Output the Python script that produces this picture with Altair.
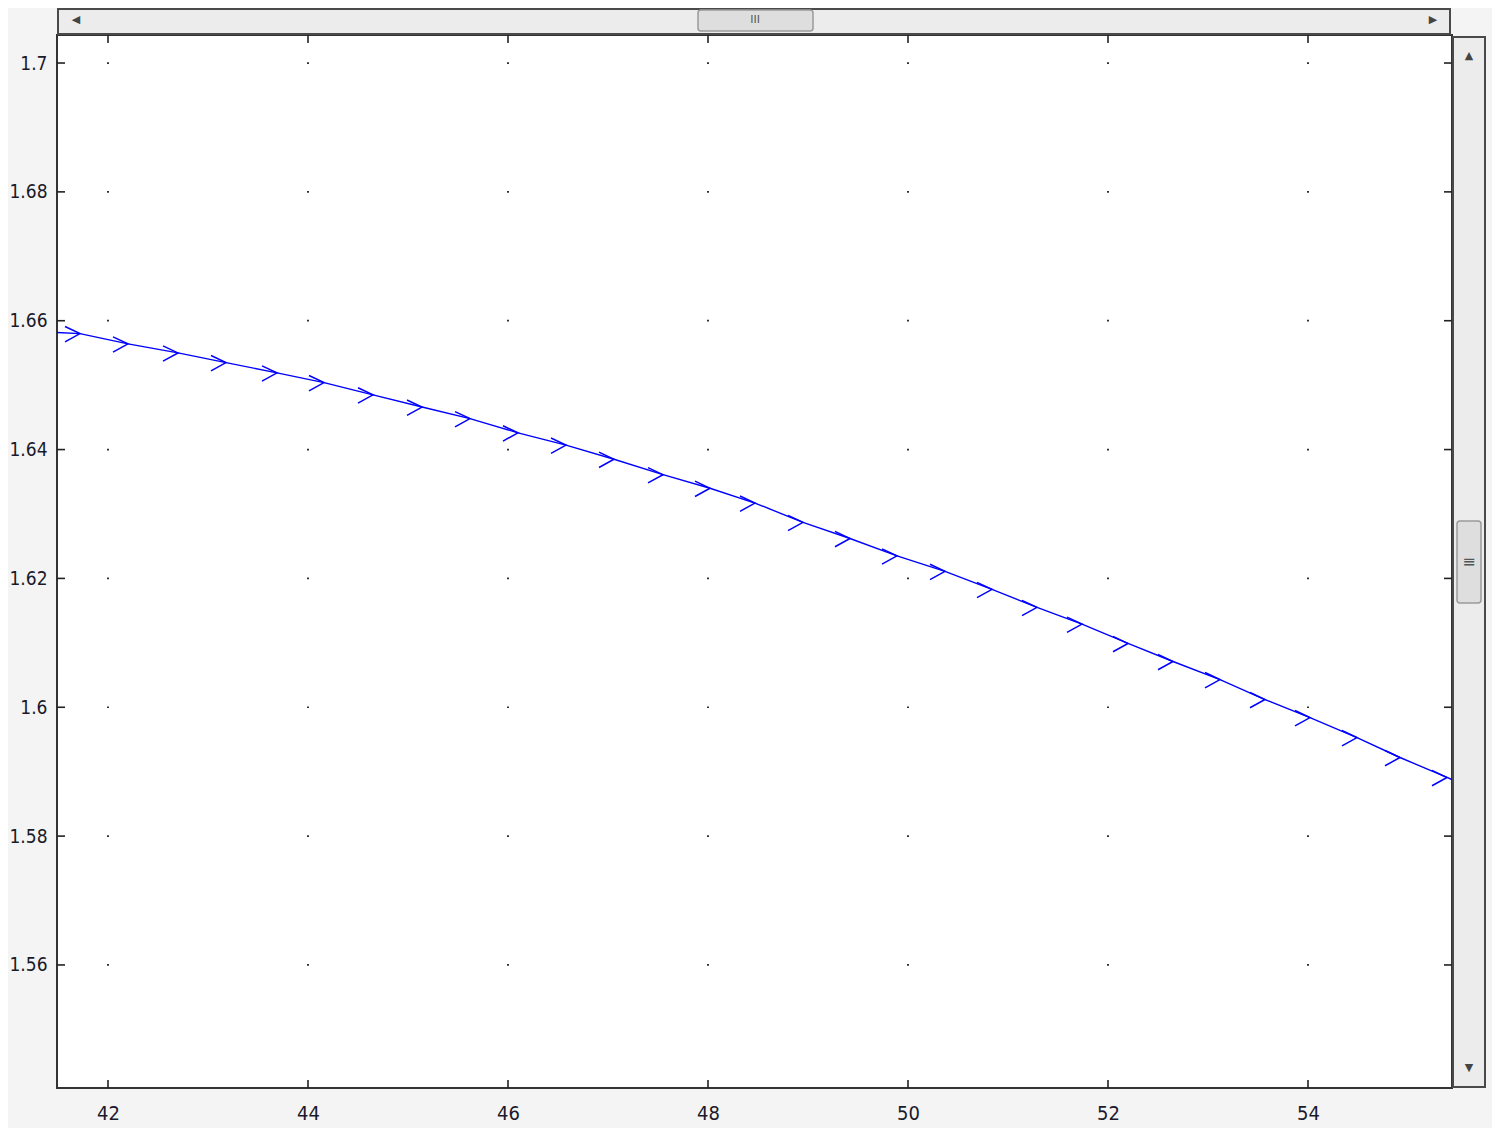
import altair as alt
import pandas as pd
import itertools

# ---- data ----
line_x = [41.45, 41.72, 42.20, 42.70, 43.18, 43.69, 44.16, 44.65, 45.14, 45.62, 46.10,
          46.58, 47.06, 47.55, 48.02, 48.47, 48.95, 49.42, 49.89, 50.37, 50.84,
          51.29, 51.74, 52.20, 52.65, 53.12, 53.57, 54.02, 54.49, 54.92, 55.39, 55.48]
line_y = [1.6582, 1.6580, 1.6564, 1.6550, 1.6535, 1.6519, 1.6504, 1.6485, 1.6466, 1.6448, 1.6426,
          1.6407, 1.6385, 1.6361, 1.6340, 1.6317, 1.6287, 1.6262, 1.6235, 1.6211, 1.6183,
          1.6155, 1.6129, 1.6099, 1.6071, 1.6043, 1.6012, 1.5984, 1.5953, 1.5922, 1.5891, 1.5885]
marker_idx = list(range(1, 31))

x_ticks = [42, 44, 46, 48, 50, 52, 54]
y_ticks = [1.56, 1.58, 1.60, 1.62, 1.64, 1.66, 1.68, 1.70]

X_DOMAIN = [41.49, 55.44]
Y_DOMAIN = [1.5409, 1.70435]
W, H = 1395, 1053

line_df = pd.DataFrame({"x": line_x, "y": line_y})
marker_df = pd.DataFrame({"x": [line_x[i] for i in marker_idx], "y": [line_y[i] for i in marker_idx]})
grid_df = pd.DataFrame(list(itertools.product(x_ticks, y_ticks)), columns=["x", "y"])
xt_df = pd.DataFrame({"x": x_ticks})
yt_df = pd.DataFrame({"y": y_ticks})
one = pd.DataFrame({"k": [0]})

xs = alt.Scale(domain=X_DOMAIN, nice=False, zero=False)
ys = alt.Scale(domain=Y_DOMAIN, nice=False, zero=False)

FONT = "DejaVu Sans Condensed"
xa = alt.Axis(values=x_ticks, format="d", title=None, ticks=False, domain=False, grid=False,
              labelPadding=15, labelFont=FONT, labelFontSize=20, labelColor="#1a1a2a")
ya = alt.Axis(values=y_ticks, format=".3~g", title=None, ticks=False, domain=False, grid=False,
              labelPadding=10, labelFont=FONT, labelFontSize=19, labelColor="#1a1a2a")

X = alt.X("x:Q", scale=xs, axis=xa)
Y = alt.Y("y:Q", scale=ys, axis=ya)

dots = alt.Chart(grid_df).mark_square(size=3, color="#111", opacity=1).encode(x=X, y=Y)

line = alt.Chart(line_df).mark_line(color="#0000ff", strokeWidth=1.4, clip=True).encode(
    x=X, y=Y, order=alt.Order("x:Q"),
)

markers = alt.Chart(marker_df).mark_point(
    shape="M -1 -0.47 L 0 0 L -1 0.55", size=900, filled=False,
    color="#0000ff", strokeWidth=1.5, opacity=1, clip=True,
).encode(x=X, y=Y)

tick_style = dict(color="#222", strokeWidth=1.6)
xt_top = alt.Chart(xt_df).mark_rule(**tick_style).encode(x=X, y=alt.value(0), y2=alt.value(8))
xt_bot = alt.Chart(xt_df).mark_rule(**tick_style).encode(x=X, y=alt.value(H - 8), y2=alt.value(H))
yt_left = alt.Chart(yt_df).mark_rule(**tick_style).encode(y=Y, x=alt.value(0), x2=alt.value(8))
yt_right = alt.Chart(yt_df).mark_rule(**tick_style).encode(y=Y, x=alt.value(W - 8), x2=alt.value(W))

# ---- window scrollbars (decoration) ----
def rect(x0, x1, y0, y1, fill, stroke, sw=1, r=0):
    return alt.Chart(one).mark_rect(fill=fill, stroke=stroke, strokeWidth=sw, cornerRadius=r).encode(
        x=alt.value(x0), x2=alt.value(x1), y=alt.value(y0), y2=alt.value(y1))

def txt(x, y, s, size=12, color="#444"):
    return alt.Chart(one).mark_text(text=s, fontSize=size, color=color, font="DejaVu Sans",
                                    align="center", baseline="middle").encode(
        x=alt.value(x), y=alt.value(y))

deco = [
    rect(1, 1393, -26, -1, "#ececec", "#4a4a4a", 2),
    rect(641, 756, -25, -4, "#dedede", "#9a9a9a", 1.5, 3),
    txt(698, -15, "III", 11, "#555"),
    txt(19, -15, "◀", 11, "#444"),
    txt(1376, -15, "▶", 11, "#444"),
    rect(1396, 1428, 2, 1052, "#ececec", "#4a4a4a", 2),
    rect(1400, 1424, 486, 568, "#dedede", "#9a9a9a", 1.5, 3),
    txt(1412, 527, "≡", 16, "#555"),
    txt(1412, 21, "▲", 11, "#444"),
    txt(1412, 1033, "▼", 11, "#444"),
]

chart = alt.layer(dots, line, markers, xt_top, xt_bot, yt_left, yt_right, *deco).properties(
    width=W, height=H,
    autosize="none",
    padding={"left": 49, "top": 27, "right": 40, "bottom": 40},
    background="#f4f4f4",
).configure_view(stroke="#333333", strokeWidth=2, fill="white")

chart.save("out.html", embed_options={"renderer": "svg", "actions": False})
